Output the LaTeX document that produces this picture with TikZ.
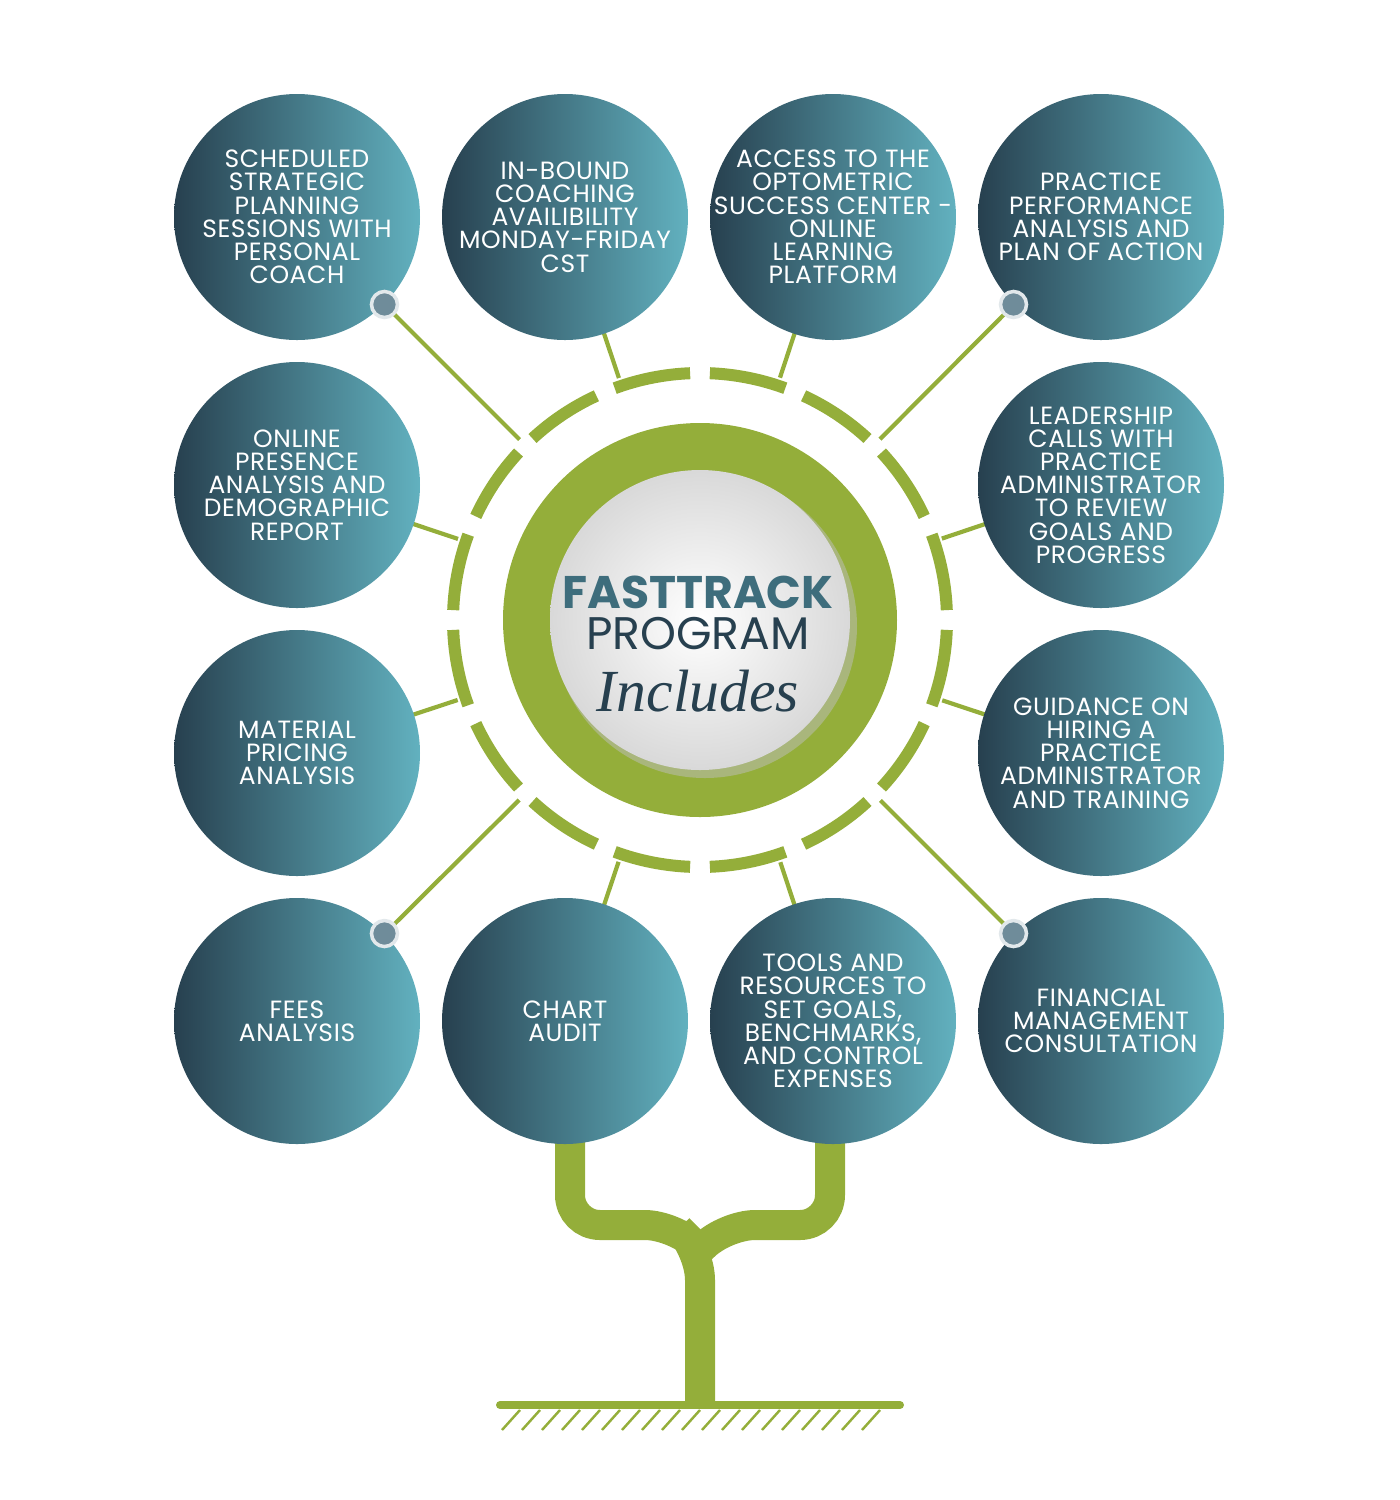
\documentclass[tikz,border=0pt]{standalone}
\usepackage{fontspec}
\setmainfont{Poppins}
\newfontfamily\cursivefont{Liberation Serif}
\definecolor{tdark}{HTML}{27404F}
\definecolor{tlight}{HTML}{62B1BF}
\definecolor{leaf}{HTML}{94AE3A}
\definecolor{knob}{HTML}{6F8C9A}
\usetikzlibrary{calc,positioning}
\tikzset{
  bubble/.style={circle, minimum size=2.46cm, inner sep=-0.5cm, text=white, align=center,
    font=\fontsize{7.1}{6.6}\selectfont\addfontfeatures{LetterSpace=2.5}, shading angle=#1,
    left color=tdark, right color=tlight},
  stalk/.style={leaf, line width=1.2pt},
  dot/.style={circle, fill=knob, draw=white!80!knob, line width=1pt, minimum size=0.26cm, inner sep=0pt}
}
\begin{document}
\begin{tikzpicture}[x=1cm,y=-1cm]
	\useasboundingbox (0,0) rectangle (14,15);
	\coordinate (hub) at (7,6.2);
	% spokes to the ring
	\foreach \px/\py in {2.97/2.17,5.65/2.17,8.33/2.17,11.01/2.17,2.97/4.85,11.01/4.85,2.97/7.53,11.01/7.53,2.97/10.21,5.65/10.21,8.33/10.21,11.01/10.21}
		\draw[stalk] (hub) -- (\px,\py);
	\fill[white] (hub) circle (2.55);
	% dashed ring
	\foreach \a in {0,22.5,...,359}
		\draw[leaf, line width=0.12cm] ($(hub)+(\a+2.3:2.47)$) arc (\a+2.3:\a+20.2:2.47);
	\fill[leaf] (hub) circle (1.97);
	\fill[black!25, opacity=0.5] ($(hub)+(0.05,0.06)$) circle (1.52);
	\shade[inner color=white, outer color=black!15] (hub) circle (1.5);
	\node[font=\fontsize{13}{13}\selectfont\bfseries, text=tdark!60!tlight] (title) at (6.98,5.92) {FASTTRACK};
	\node[font=\fontsize{13}{13}\selectfont, text=tdark, below=-0.16cm of title] (prog) {PROGRAM};
	\node[font=\cursivefont\itshape\fontsize{17}{17}\selectfont, text=tdark, below=-0.05cm of prog] (incl) {Includes};
	% trunk
	\draw[leaf, line width=0.3cm, rounded corners=0.3cm] (5.7,11.3) -- (5.7,12.25) -- (6.75,12.25) -- (7,12.5) -- (7,14.05);
	\draw[leaf, line width=0.3cm, rounded corners=0.3cm] (8.3,11.3) -- (8.3,12.25) -- (7.25,12.25) -- (7,12.5);
	\draw[leaf, line width=0.08cm, line cap=round] (5,14.05) -- (9,14.05);
	\foreach \x in {5.2,5.4,...,8.8}
		\draw[leaf, line width=0.7pt] (\x,14.1) -- ++(-0.18,0.2);
	% bubbles
	\node[bubble=-45] (b1) at (2.97,2.17) {SCHEDULED\\STRATEGIC\\PLANNING\\SESSIONS WITH\\PERSONAL\\COACH};
	\node[bubble=45] (b2) at (5.65,2.17) {IN-BOUND\\COACHING\\AVAILIBILITY\\MONDAY-FRIDAY\\CST};
	\node[bubble=-100] (b3) at (8.33,2.17) {ACCESS TO THE\\OPTOMETRIC\\SUCCESS CENTER -\\ONLINE\\LEARNING\\PLATFORM};
	\node[bubble=120] (b4) at (11.01,2.17) {PRACTICE\\PERFORMANCE\\ANALYSIS AND\\PLAN OF ACTION};
	\node[bubble=45] (b5) at (2.97,4.85) {ONLINE\\PRESENCE\\ANALYSIS AND\\DEMOGRAPHIC\\REPORT};
	\node[bubble=-45] (b6) at (11.01,4.85) {LEADERSHIP\\CALLS WITH\\PRACTICE\\ADMINISTRATOR\\TO REVIEW\\GOALS AND\\PROGRESS};
	\node[bubble=-90] (b7) at (2.97,7.53) {MATERIAL\\PRICING\\ANALYSIS};
	\node[bubble=-45] (b8) at (11.01,7.53) {GUIDANCE ON\\HIRING A\\PRACTICE\\ADMINISTRATOR\\AND TRAINING};
	\node[bubble=60] (b9) at (2.97,10.21) {FEES\\ANALYSIS};
	\node[bubble=-90] (b10) at (5.65,10.21) {CHART\\AUDIT};
	\node[bubble=-45] (b11) at (8.33,10.21) {TOOLS AND\\RESOURCES TO\\SET GOALS,\\BENCHMARKS,\\AND CONTROL\\EXPENSES};
	\node[bubble=100] (b12) at (11.01,10.21) {FINANCIAL\\MANAGEMENT\\CONSULTATION};
	% knobs
	\node[dot] (k1) at (b1.-45) {};
	\node[dot] (k4) at (b4.-135) {};
	\node[dot] (k9) at (b9.45) {};
	\node[dot] (k12) at (b12.135) {};
\end{tikzpicture}
\end{document}
